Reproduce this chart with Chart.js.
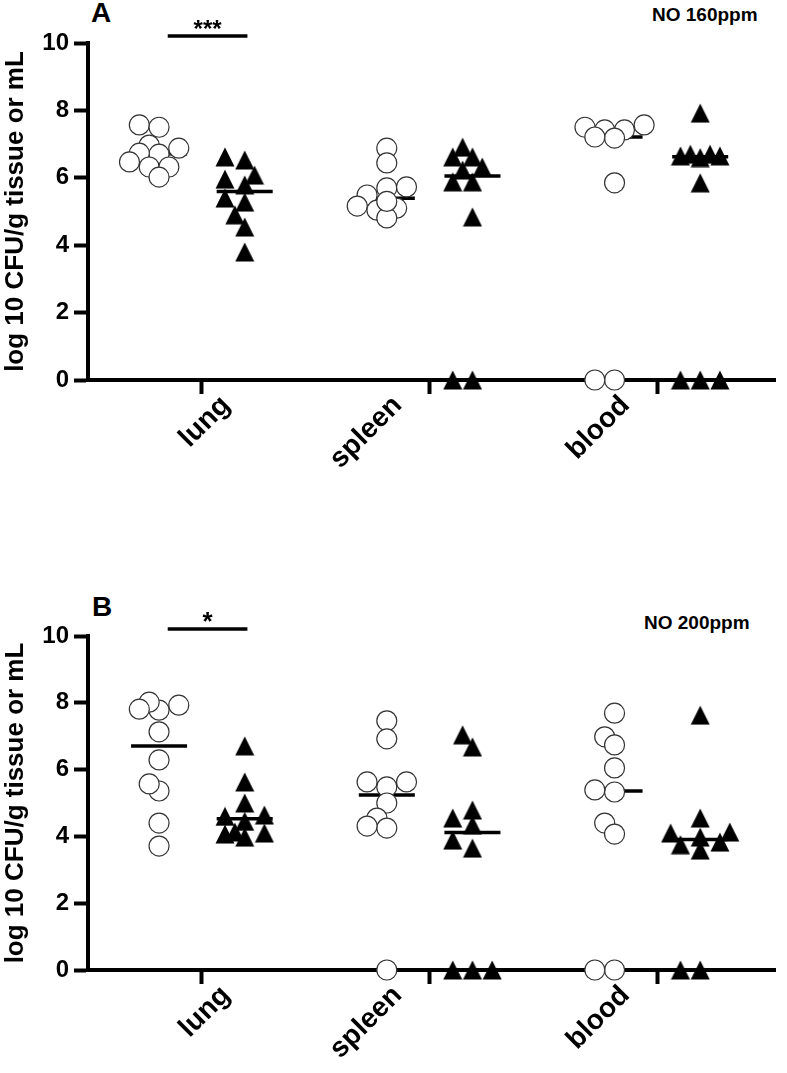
<!DOCTYPE html>
<html>
<head>
<meta charset="utf-8">
<script src="https://cdn.jsdelivr.net/npm/chart.js@4.4.0/dist/chart.umd.min.js"></script>
<style>
  body { margin: 0; background: #fff; width: 787px; height: 1073px; position: relative; overflow: hidden;
         font-family: "Liberation Sans", Arial, sans-serif; }
  canvas { position: absolute; left: 0; }
  .lbl { position: absolute; font-weight: bold; color: #000; line-height: 1; white-space: nowrap; }
</style>
</head>
<body>
<div class="lbl" style="left:91px;top:-1px;font-size:28px">A</div>
<div class="lbl" style="left:652px;top:5px;font-size:19px">NO 160ppm</div>
<canvas id="panelA" width="787" height="560" style="top:0"></canvas>
<div class="lbl" style="left:92px;top:593px;font-size:28px">B</div>
<div class="lbl" style="left:644px;top:613px;font-size:19px">NO 200ppm</div>
<canvas id="panelB" width="787" height="513" style="top:560px"></canvas>
<script>
const categories = ['lung', 'spleen', 'blood'];
const yTicks = [0, 2, 4, 6, 8, 10];

// log10 CFU, open circles = control, filled triangles = NO treated
// NO 160ppm
const lungCtrl160 = [7.57, 7.50, 6.97, 6.88, 6.70, 6.73, 6.47, 6.32, 6.32, 6.02];
const lungNo160 = [6.62, 6.53, 5.96, 6.08, 5.79, 5.28, 5.40, 4.90, 4.54, 3.80];
const spleenCtrl160 = [6.88, 6.44, 5.70, 5.73, 5.49, 5.04, 5.10, 5.16, 4.81, 5.30];
const spleenNo160 = [6.91, 6.62, 6.62, 6.32, 6.23, 5.88, 5.88, 4.84, 0, 0];
const bloodCtrl160 = [7.42, 7.57, 7.50, 7.42, 7.18, 7.21, 5.85, 0, 0];
const bloodNo160 = [7.92, 6.65, 6.70, 6.70, 6.65, 6.60, 5.85, 0, 0, 0];

// NO 200ppm
const lungCtrl200 = [7.78, 7.93, 8.02, 7.81, 7.13, 6.29, 5.36, 5.57, 4.40, 3.71];
const lungNo200 = [6.71, 5.63, 5.00, 4.60, 4.64, 4.07, 4.10, 4.45, 3.98, 4.13];
const spleenCtrl200 = [7.46, 6.92, 5.63, 5.48, 5.63, 5.00, 4.55, 4.25, 4.31, 0];
const spleenNo200 = [7.04, 6.68, 4.79, 4.55, 4.34, 3.89, 3.65, 0, 0, 0];
const bloodCtrl200 = [7.69, 6.98, 6.74, 6.05, 5.33, 5.39, 4.40, 4.07, 0, 0];
const bloodNo200 = [7.63, 4.55, 3.98, 4.13, 4.10, 3.83, 3.59, 3.75, 0, 0];

// significance bars: [text, from x, to x, y]
const sig160 = ['***', -0.15, 0.20, 10.2];
const sig200 = ['*', -0.15, 0.20, 10.2];

const FONT = '"Liberation Sans", Arial, sans-serif';
Chart.defaults.font.family = FONT;
Chart.defaults.color = '#000';

const X_PX = 231, Y_PX = 33.6;   // approx pixels per unit, used for the swarm spacing
const GROUP_SHIFT = 0.188;
const MEDIAN_HALF = 0.123;
const LABEL_NUDGE = [24, -32, -32];  // category labels sit a bit off their ticks in the original

function median(a) {
    const s = [...a].sort((p, q) => p - q);
    const n = s.length;
    return n % 2 ? s[(n - 1) / 2] : (s[n / 2 - 1] + s[n / 2]) / 2;
}

// simple beeswarm so points in a column don't sit on top of each other
function swarm(values, step, minDist) {
    const order = values.map((v, i) => i).sort((a, b) => values[a] - values[b]);
    const placed = [];
    const offs = [];
    order.forEach(i => {
        const y = values[i] * Y_PX;
        let best = 0, bestD = -1;
        for (let k = 0; k < 7; k++) {
            const off = k === 0 ? 0 : (k % 2 ? -1 : 1) * Math.ceil(k / 2) * step;
            const d = placed.reduce((m, p) => Math.min(m, Math.hypot(p.x - off, p.y - y)), Infinity);
            if (d >= minDist) { best = off; break; }
            if (d > bestD) { bestD = d; best = off; }
        }
        placed.push({x: best, y});
        offs[i] = best / X_PX;
    });
    return offs;
}

function triangleImg() {
    const c = document.createElement('canvas');
    c.width = 20; c.height = 20;
    const g = c.getContext('2d');
    g.fillStyle = '#000';
    g.beginPath();
    g.moveTo(10, 0.5);
    g.lineTo(19.5, 19.5);
    g.lineTo(0.5, 19.5);
    g.closePath();
    g.fill();
    return c;
}
const TRI = triangleImg();

function groupPoints(values, cat, side, step, minDist) {
    const offs = swarm(values, step, minDist);
    return values.map((v, i) => ({x: cat + side * GROUP_SHIFT + offs[i], y: v}));
}

function medianLine(values, cat, side) {
    const m = median(values);
    const c = cat + side * GROUP_SHIFT;
    return {
        type: 'line',
        data: [{x: c - MEDIAN_HALF, y: m}, {x: c + MEDIAN_HALF, y: m}],
        borderColor: '#000',
        borderWidth: 3.5,
        pointRadius: 0,
        clip: false,
        order: 5
    };
}

const sigPlugin = {
    id: 'sig',
    afterDraw(chart, args, opts) {
        const [text, x0, x1, y] = opts.bar;
        const {x, y: ys} = chart.scales;
        const ctx = chart.ctx;
        const py = Math.round(ys.getPixelForValue(y));
        ctx.save();
        ctx.strokeStyle = '#000';
        ctx.lineWidth = 3.5;
        ctx.beginPath();
        ctx.moveTo(x.getPixelForValue(x0), py);
        ctx.lineTo(x.getPixelForValue(x1), py);
        ctx.stroke();
        ctx.fillStyle = '#000';
        ctx.font = 'bold ' + opts.size + 'px ' + FONT;
        ctx.textAlign = 'center';
        ctx.textBaseline = 'alphabetic';
        ctx.fillText(text, (x.getPixelForValue(x0) + x.getPixelForValue(x1)) / 2, py + 1);

        // rotated category labels
        ctx.font = 'bold 28px ' + FONT;
        ctx.textAlign = 'right';
        ctx.textBaseline = 'middle';
        categories.forEach((c, i) => {
            ctx.save();
            ctx.translate(x.getPixelForValue(i) + LABEL_NUDGE[i], chart.chartArea.bottom + 21);
            ctx.rotate(-Math.PI / 4);
            ctx.fillText(c, 0, 0);
            ctx.restore();
        });
        ctx.restore();
    }
};

function makePanel(id, ctrl, treated, sig, sigSize, padTop, xHeight) {
    const datasets = [];
    ctrl.forEach((vals, cat) => {
        datasets.push({
            data: groupPoints(vals, cat, -1, 10, 12),
            pointStyle: 'circle',
            pointRadius: 10,
            backgroundColor: '#fff',
            borderColor: '#333',
            borderWidth: 1.2,
            clip: false,
            order: 1
        });
        datasets.push(medianLine(vals, cat, -1));
    });
    treated.forEach((vals, cat) => {
        datasets.push({
            data: groupPoints(vals, cat, 1, 10, 13),
            pointStyle: TRI,
            pointRadius: 10,
            backgroundColor: '#000',
            borderColor: '#000',
            clip: false,
            order: 1
        });
        datasets.push(medianLine(vals, cat, 1));
    });

    return new Chart(document.getElementById(id), {
        type: 'scatter',
        data: {datasets},
        plugins: [sigPlugin],
        options: {
            responsive: false,
            animation: false,
            events: [],
            layout: {padding: {top: padTop, left: 0, right: 2, bottom: 0}},
            plugins: {
                legend: {display: false},
                tooltip: {enabled: false},
                sig: {bar: sig, size: sigSize}
            },
            scales: {
                x: {
                    type: 'linear',
                    min: -0.5,
                    max: 2.52,
                    afterBuildTicks: s => { s.ticks = categories.map((c, i) => ({value: i})); },
                    afterFit: s => { s.height = xHeight; },
                    ticks: {display: false},
                    grid: {display: true, drawOnChartArea: false, drawTicks: true, tickLength: 14, tickWidth: 4, tickColor: '#000'},
                    border: {display: true, width: 4, color: '#000'}
                },
                y: {
                    min: 0,
                    max: 10,
                    afterBuildTicks: s => { s.ticks = yTicks.map(v => ({value: v})); },
                    afterFit: s => { s.width = 88; },
                    ticks: {
                        padding: 5,
                        font: {size: 24, weight: 'bold'}
                    },
                    title: {
                        display: true,
                        text: 'log 10 CFU/g tissue or mL',
                        font: {size: 26, weight: 'bold'},
                        padding: {top: 0, bottom: 0}
                    },
                    grid: {display: true, drawOnChartArea: false, drawTicks: true, tickLength: 14, tickWidth: 4, tickColor: '#000'},
                    border: {display: true, width: 4, color: '#000'}
                }
            }
        }
    });
}

makePanel('panelA',
    [lungCtrl160, spleenCtrl160, bloodCtrl160],
    [lungNo160, spleenNo160, bloodNo160],
    sig160, 24, 43, 180);

makePanel('panelB',
    [lungCtrl200, spleenCtrl200, bloodCtrl200],
    [lungNo200, spleenNo200, bloodNo200],
    sig200, 26, 76, 103);
</script>
</body>
</html>
